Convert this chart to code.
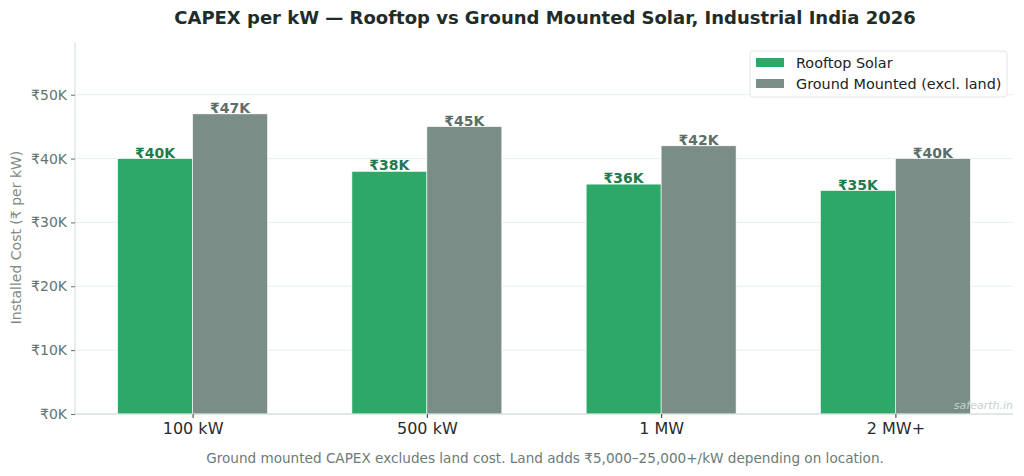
<!DOCTYPE html>
<html>
<head>
<meta charset="utf-8">
<script src="https://cdn.jsdelivr.net/npm/d3@7"></script>
<style>
  body { margin: 0; background: #fff; }
  svg { display: block; font-family: "DejaVu Sans", sans-serif; }
</style>
</head>
<body>
<div class="workspace"></div>
<script>
const categories = ['100 kW', '500 kW', '1 MW', '2 MW+'];
const rooftopValues = [40, 38, 36, 35];
const groundValues = [47, 45, 42, 40];
const seriesNames = ['Rooftop Solar', 'Ground Mounted (excl. land)'];
const yTicks = [0, 10, 20, 30, 40, 50];

const width = 1024;
const height = 476;
const margin = { left: 75, right: 11, top: 43, bottom: 62 };

const colors = {
  rooftop: '#2ea868',
  ground: '#7a8e87',
  rooftopLabel: '#1f7a4c',
  groundLabel: '#5b6e67',
  grid: '#e6f0ec',
  spine: '#c9dcd4',
  tick: '#63736d',
};

const svg = d3
  .select('.workspace')
  .append('svg')
  .attr('width', width)
  .attr('height', height);

const x = d3
  .scaleLinear()
  .domain([-0.502, 3.502])
  .range([margin.left, width - margin.right]);

const y = d3
  .scaleLinear()
  .domain([0, 58.1])
  .range([height - margin.bottom, margin.top]);

const barWidth = 0.32;

// grid
svg
  .append('g')
  .selectAll('line')
  .data(yTicks)
  .enter()
  .append('line')
  .attr('x1', margin.left)
  .attr('x2', width - margin.right)
  .attr('y1', (d) => y(d))
  .attr('y2', (d) => y(d))
  .attr('stroke', colors.grid)
  .attr('stroke-width', 1);

// bars
const series = [
  { key: 'rooftop', values: rooftopValues, offset: -barWidth / 2 },
  { key: 'ground', values: groundValues, offset: barWidth / 2 },
];

series.forEach(function (s) {
  const g = svg.append('g');
  g.selectAll('rect')
    .data(s.values)
    .enter()
    .append('rect')
    .attr('x', (d, i) => x(i + s.offset - barWidth / 2))
    .attr('width', x(barWidth) - x(0))
    .attr('y', (d) => y(d))
    .attr('height', (d) => y(0) - y(d))
    .attr('fill', colors[s.key])
    .attr('stroke', '#fff')
    .attr('stroke-width', 0.6);

  g.selectAll('text')
    .data(s.values)
    .enter()
    .append('text')
    .attr('x', (d, i) => x(i + s.offset))
    .attr('y', (d) => y(d) - 1)
    .attr('text-anchor', 'middle')
    .attr('font-size', 14)
    .attr('font-weight', 'bold')
    .attr('fill', colors[s.key + 'Label'])
    .text((d) => `₹${d}K`);
});

// watermark
svg
  .append('text')
  .attr('x', width - margin.right)
  .attr('y', y(0) - 5)
  .attr('text-anchor', 'end')
  .attr('font-size', 11)
  .attr('font-style', 'italic')
  .attr('fill', '#c3d3cc')
  .text('safearth.in');

// y axis
const yAxis = svg
  .append('g')
  .attr('transform', `translate(${margin.left},0)`)
  .call(
    d3
      .axisLeft(y)
      .tickValues(yTicks)
      .tickSize(4)
      .tickPadding(4)
      .tickFormat((d) => `₹${d}K`)
  );
yAxis.select('.domain').attr('stroke', colors.spine).attr('d', `M0,${y(0)}V${margin.top}`);
yAxis.selectAll('.tick line').attr('stroke', colors.tick);
yAxis
  .selectAll('.tick text')
  .attr('font-family', '"DejaVu Sans", sans-serif')
  .attr('font-size', 14)
  .attr('fill', colors.tick);

// x axis
const xAxis = svg
  .append('g')
  .attr('transform', `translate(0,${y(0)})`)
  .call(
    d3
      .axisBottom(x)
      .tickValues(d3.range(categories.length))
      .tickSize(4)
      .tickPadding(5)
      .tickFormat((d) => categories[d])
  );
xAxis
  .select('.domain')
  .attr('stroke', colors.spine)
  .attr('d', `M${margin.left},0H${width - margin.right}`);
xAxis.selectAll('.tick line').attr('stroke', '#333');
xAxis
  .selectAll('.tick text')
  .attr('font-family', '"DejaVu Sans", sans-serif')
  .attr('font-size', 16)
  .attr('fill', '#2b2b2b');

// y label
svg
  .append('text')
  .attr('transform', `translate(21,${(y(0) + margin.top) / 2 + 9}) rotate(-90)`)
  .attr('text-anchor', 'middle')
  .attr('font-size', 14)
  .attr('fill', '#7b8b85')
  .text('Installed Cost (₹ per kW)');

// title
svg
  .append('text')
  .attr('x', 545)
  .attr('y', 24)
  .attr('text-anchor', 'middle')
  .attr('font-size', 18)
  .attr('font-weight', 'bold')
  .attr('fill', '#1f2d28')
  .text('CAPEX per kW — Rooftop vs Ground Mounted Solar, Industrial India 2026');

// footnote
svg
  .append('text')
  .attr('x', 545)
  .attr('y', 463)
  .attr('text-anchor', 'middle')
  .attr('font-size', 13.6)
  .attr('fill', '#6b7b75')
  .text('Ground mounted CAPEX excludes land cost. Land adds ₹5,000–25,000+/kW depending on location.');

// legend
const legend = svg.append('g').attr('transform', 'translate(750,51)');
legend
  .append('rect')
  .attr('width', 257)
  .attr('height', 46)
  .attr('rx', 3)
  .attr('fill', '#fff')
  .attr('fill-opacity', 0.85)
  .attr('stroke', '#e1e8e5');
const legendItems = legend
  .selectAll('g')
  .data(seriesNames)
  .enter()
  .append('g')
  .attr('transform', (d, i) => `translate(6,${7 + i * 21})`);
legendItems
  .append('rect')
  .attr('width', 28)
  .attr('height', 9)
  .attr('fill', (d, i) => (i === 0 ? colors.rooftop : colors.ground));
legendItems
  .append('text')
  .attr('x', 40)
  .attr('y', 10)
  .attr('font-size', 14.4)
  .attr('fill', '#222')
  .text((d) => d);
</script>
</body>
</html>
